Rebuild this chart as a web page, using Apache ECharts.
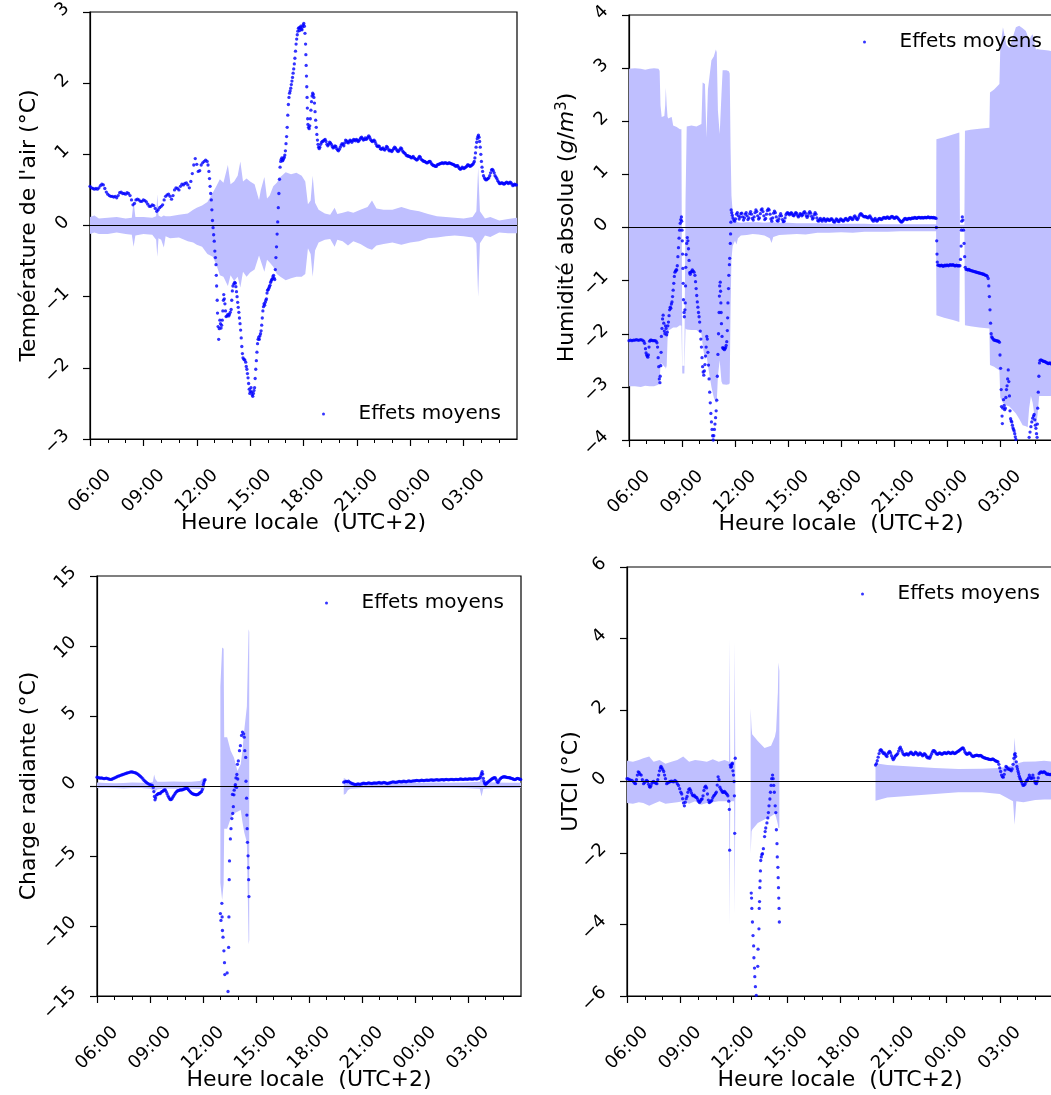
<!DOCTYPE html>
<html><head><meta charset="utf-8">
<script src="https://cdn.jsdelivr.net/npm/echarts@6/dist/echarts.min.js"></script>
<style>html,body{margin:0;padding:0;background:#fff}#c{width:1051px;height:1095px}</style>
</head><body><div id="c"></div>
<script>
// x values: minutes since 06:00 local time (UTC+2)
const hourLabels = ['06:00','09:00','12:00','15:00','18:00','21:00','00:00','03:00'];
const legendName = 'Effets moyens';
const xTitle = 'Heure locale  (UTC+2)';

// ---- Panel 1 : Température de l'air (°C)
const tempDots = [[0,0.55],[5,0.53],[10,0.52],[15,0.51],[20,0.52],[25,0.51],[30,0.53],[35,0.56],[40,0.58],[45,0.57],[50,0.52],[55,0.47],[60,0.44],[65,0.42],[70,0.41],[75,0.41],[80,0.40],[85,0.41],[90,0.39],[95,0.42],[100,0.46],[105,0.47],[110,0.45],[115,0.45],[120,0.44],[125,0.46],[130,0.45],[135,0.42],[140,0.36],[145,0.29],[150,0.31],[155,0.36],[160,0.37],[165,0.36],[170,0.34],[175,0.34],[180,0.36],[185,0.35],[190,0.33],[195,0.30],[200,0.27],[205,0.27],[210,0.29],[215,0.28],[220,0.24],[225,0.20],[230,0.22],[235,0.25],[240,0.27],[245,0.29],[250,0.36],[255,0.41],[260,0.43],[265,0.44],[270,0.41],[275,0.37],[280,0.42],[285,0.50],[290,0.53],[295,0.52],[300,0.50],[305,0.55],[310,0.58],[315,0.57],[320,0.59],[325,0.60],[330,0.57],[335,0.53],[340,0.62],[345,0.73],[350,0.85],[355,0.94],[360,0.86],[365,0.76],[370,0.77],[375,0.85],[380,0.88],[385,0.90],[390,0.92],[395,0.90],[398,0.85],[401,0.76],[403,0.66],[405,0.55],[407,0.45],[409,0.36],[411,0.22],[413,0.07],[415,-0.03],[417,-0.13],[419,-0.22],[421,-0.36],[423,-0.45],[425,-0.55],[426,-0.70],[427,-0.85],[429,-1.05],[430,-1.23],[432,-1.42],[434,-1.60],[436,-1.45],[438,-1.33],[440,-1.38],[442,-1.44],[444,-1.40],[446,-1.33],[448,-1.20],[450,-1.05],[451,-0.97],[453,-1.03],[455,-1.10],[457,-1.20],[459,-1.28],[462,-1.27],[465,-1.25],[468,-1.27],[470,-1.25],[473,-1.22],[476,-1.18],[478,-1.05],[480,-0.92],[482,-0.85],[485,-0.82],[488,-0.80],[490,-0.81],[492,-0.86],[494,-0.93],[496,-1.00],[498,-1.08],[500,-1.15],[502,-1.22],[504,-1.30],[506,-1.38],[508,-1.47],[510,-1.58],[512,-1.70],[514,-1.80],[516,-1.86],[519,-1.88],[522,-1.89],[525,-1.92],[527,-1.98],[529,-2.02],[531,-2.08],[533,-2.14],[535,-2.22],[537,-2.30],[539,-2.36],[541,-2.33],[543,-2.28],[545,-2.34],[547,-2.38],[549,-2.40],[551,-2.36],[553,-2.32],[555,-2.28],[557,-2.15],[559,-2.02],[561,-1.90],[563,-1.78],[565,-1.66],[567,-1.60],[569,-1.57],[571,-1.60],[573,-1.55],[575,-1.52],[577,-1.48],[579,-1.40],[581,-1.30],[583,-1.20],[585,-1.14],[587,-1.10],[589,-1.12],[591,-1.08],[593,-1.05],[595,-1.03],[597,-0.95],[599,-0.91],[601,-0.90],[603,-0.88],[605,-0.86],[607,-0.84],[609,-0.80],[611,-0.78],[613,-0.76],[615,-0.75],[617,-0.72],[619,-0.70],[621,-0.74],[623,-0.76],[625,-0.62],[627,-0.45],[629,-0.30],[631,-0.12],[633,0.05],[635,0.25],[637,0.45],[639,0.65],[641,0.82],[643,0.90],[645,0.93],[647,0.95],[649,0.91],[651,0.92],[653,0.94],[655,0.96],[657,0.99],[659,1.05],[661,1.15],[663,1.25],[665,1.38],[667,1.55],[669,1.70],[671,1.80],[673,1.86],[675,1.89],[677,1.93],[679,1.98],[681,2.03],[683,2.08],[685,2.14],[687,2.20],[689,2.27],[691,2.35],[693,2.45],[695,2.55],[697,2.62],[699,2.68],[701,2.73],[703,2.77],[705,2.78],[707,2.74],[709,2.78],[711,2.80],[713,2.76],[715,2.75],[717,2.79],[719,2.82],[721,2.84],[723,2.80],[725,2.70],[727,2.55],[728,2.40],[729,2.25],[730,2.10],[731,1.95],[732,1.80],[733,1.65],[734,1.50],[735,1.42],[737,1.38],[739,1.36],[741,1.40],[743,1.50],[745,1.62],[747,1.74],[749,1.82],[751,1.86],[753,1.84],[755,1.80],[757,1.72],[759,1.60],[761,1.48],[763,1.38],[765,1.28],[767,1.20],[769,1.14],[771,1.10],[773,1.08],[775,1.10],[778,1.14],[781,1.17],[784,1.18],[787,1.19],[790,1.20],[793,1.21],[796,1.18],[799,1.14],[802,1.12],[805,1.14],[808,1.17],[811,1.16],[814,1.14],[817,1.11],[820,1.09],[823,1.10],[826,1.12],[829,1.11],[832,1.08],[835,1.06],[838,1.05],[841,1.07],[844,1.10],[847,1.13],[850,1.15],[853,1.14],[856,1.12],[859,1.16],[862,1.20],[865,1.19],[868,1.17],[871,1.16],[874,1.18],[877,1.20],[880,1.19],[883,1.17],[886,1.19],[889,1.21],[892,1.20],[895,1.19],[898,1.21],[901,1.20],[904,1.18],[907,1.19],[910,1.21],[913,1.23],[916,1.24],[919,1.22],[922,1.20],[925,1.21],[928,1.23],[931,1.21],[934,1.22],[937,1.24],[940,1.26],[943,1.24],[946,1.21],[949,1.19],[952,1.18],[955,1.19],[958,1.20],[961,1.18],[964,1.15],[967,1.12],[970,1.11],[973,1.12],[976,1.11],[979,1.08],[982,1.07],[985,1.08],[988,1.09],[991,1.07],[994,1.06],[997,1.08],[1000,1.11],[1003,1.10],[1006,1.07],[1009,1.05],[1012,1.06],[1015,1.05],[1018,1.04],[1021,1.06],[1024,1.08],[1027,1.10],[1030,1.09],[1033,1.07],[1036,1.05],[1039,1.04],[1042,1.05],[1045,1.07],[1048,1.09],[1051,1.08],[1054,1.05],[1057,1.03],[1060,1.02],[1063,1.01],[1066,0.99],[1069,0.98],[1072,0.98],[1075,0.97],[1078,0.97],[1081,0.96],[1084,0.95],[1087,0.96],[1090,0.97],[1093,0.95],[1096,0.94],[1099,0.93],[1102,0.92],[1105,0.93],[1108,0.95],[1111,0.97],[1114,0.96],[1117,0.93],[1120,0.92],[1123,0.91],[1126,0.90],[1129,0.90],[1132,0.89],[1135,0.88],[1138,0.88],[1141,0.89],[1144,0.90],[1147,0.90],[1150,0.88],[1153,0.86],[1156,0.85],[1159,0.84],[1162,0.84],[1165,0.83],[1168,0.83],[1171,0.85],[1174,0.86],[1177,0.86],[1180,0.87],[1183,0.87],[1186,0.88],[1189,0.88],[1192,0.87],[1195,0.88],[1198,0.88],[1201,0.88],[1204,0.87],[1207,0.87],[1210,0.88],[1213,0.88],[1216,0.87],[1219,0.87],[1222,0.86],[1225,0.86],[1228,0.85],[1231,0.84],[1234,0.83],[1237,0.84],[1240,0.84],[1243,0.82],[1246,0.80],[1249,0.79],[1252,0.80],[1255,0.82],[1258,0.81],[1261,0.80],[1264,0.81],[1267,0.82],[1270,0.83],[1273,0.85],[1276,0.85],[1279,0.84],[1282,0.83],[1285,0.84],[1288,0.85],[1291,0.86],[1294,0.88],[1296,0.90],[1298,0.95],[1300,1.02],[1302,1.10],[1304,1.17],[1306,1.22],[1308,1.25],[1310,1.27],[1312,1.24],[1314,1.18],[1316,1.10],[1318,1.00],[1320,0.90],[1322,0.82],[1324,0.76],[1327,0.70],[1330,0.67],[1333,0.65],[1336,0.64],[1339,0.65],[1342,0.66],[1345,0.67],[1348,0.70],[1351,0.74],[1354,0.78],[1357,0.79],[1360,0.77],[1363,0.74],[1366,0.70],[1369,0.68],[1372,0.66],[1375,0.63],[1378,0.61],[1381,0.59],[1384,0.59],[1387,0.60],[1390,0.60],[1393,0.59],[1396,0.58],[1399,0.59],[1402,0.60],[1405,0.61],[1408,0.60],[1411,0.59],[1414,0.60],[1417,0.61],[1420,0.60],[1423,0.58],[1426,0.56],[1429,0.57],[1432,0.58],[1435,0.57],[1438,0.57]];
// band: [minute, upper, lower]   (null row = gap)
const tempBand = [[0,0.12,-0.12],[15,0.14,-0.10],[30,0.10,-0.12],[60,0.11,-0.12],[90,0.12,-0.10],[120,0.10,-0.12],[141,0.11,-0.13],[147,0.34,-0.30],[153,0.12,-0.14],[180,0.12,-0.12],[210,0.11,-0.13],[223,0.13,-0.20],[227,0.44,-0.44],[231,0.14,-0.18],[240,0.12,-0.20],[249,0.14,-0.31],[255,0.13,-0.15],[270,0.13,-0.18],[300,0.15,-0.17],[330,0.17,-0.22],[348,0.22,-0.24],[360,0.25,-0.27],[378,0.28,-0.30],[396,0.33,-0.40],[414,0.46,-0.44],[426,0.55,-0.55],[438,0.65,-0.70],[450,0.60,-0.72],[465,0.85,-0.85],[474,0.58,-0.70],[486,0.62,-0.78],[498,0.70,-0.72],[507,0.90,-0.87],[516,0.62,-0.65],[528,0.66,-0.72],[540,0.62,-0.66],[555,0.58,-0.62],[570,0.36,-0.42],[576,0.50,-0.50],[588,0.68,-0.65],[597,0.38,-0.48],[606,0.42,-0.52],[618,0.55,-0.58],[630,0.60,-0.68],[642,0.68,-0.72],[660,0.75,-0.77],[678,0.72,-0.74],[696,0.74,-0.72],[714,0.70,-0.72],[726,0.62,-0.68],[735,0.30,-0.32],[744,0.35,-0.40],[751,0.70,-0.72],[759,0.32,-0.35],[771,0.22,-0.24],[792,0.17,-0.20],[810,0.15,-0.19],[825,0.25,-0.30],[834,0.16,-0.20],[852,0.18,-0.22],[870,0.20,-0.28],[888,0.18,-0.22],[912,0.22,-0.26],[936,0.26,-0.32],[951,0.35,-0.34],[966,0.24,-0.28],[990,0.22,-0.26],[1020,0.22,-0.24],[1050,0.26,-0.27],[1080,0.22,-0.24],[1110,0.20,-0.22],[1140,0.16,-0.18],[1170,0.13,-0.17],[1200,0.12,-0.15],[1230,0.11,-0.14],[1260,0.10,-0.15],[1290,0.12,-0.17],[1303,0.20,-0.25],[1309,0.82,-1.00],[1315,0.20,-0.25],[1332,0.10,-0.14],[1350,0.12,-0.16],[1380,0.07,-0.10],[1410,0.09,-0.11],[1440,0.11,-0.11]];

// ---- Panel 2 : Humidité absolue (g/m3)
const humDots = [[0,-2.13],[5,-2.12],[10,-2.13],[15,-2.12],[20,-2.12],[25,-2.11],[30,-2.12],[35,-2.12],[40,-2.11],[45,-2.12],[50,-2.14],[53,-2.18],[56,-2.28],[58,-2.36],[60,-2.40],[62,-2.42],[64,-2.44],[66,-2.40],[68,-2.25],[70,-2.14],[73,-2.12],[76,-2.12],[80,-2.13],[84,-2.13],[88,-2.13],[92,-2.14],[95,-2.17],[97,-2.25],[99,-2.45],[101,-2.62],[103,-2.85],[105,-2.92],[106,-2.80],[108,-2.60],[109,-2.35],[110,-2.05],[112,-1.90],[114,-1.72],[116,-1.65],[118,-1.80],[120,-1.95],[122,-2.00],[124,-1.85],[126,-1.90],[128,-2.02],[130,-1.97],[132,-1.85],[134,-1.78],[136,-1.66],[138,-1.55],[140,-1.50],[142,-1.52],[144,-1.44],[146,-1.40],[148,-1.30],[150,-1.18],[152,-1.05],[154,-0.92],[156,-0.84],[158,-0.82],[160,-0.80],[162,-0.80],[164,-0.72],[166,-0.55],[168,-0.38],[170,-0.20],[172,-0.05],[174,0.08],[176,0.15],[178,0.20],[179,0.12],[180,-0.05],[181,-0.25],[182,-0.50],[183,-0.77],[184,-1.05],[185,-1.36],[187,-1.60],[188,-1.68],[190,-1.55],[191,-1.42],[192,-1.10],[193,-0.75],[194,-0.51],[196,-0.30],[198,-0.19],[200,-0.25],[202,-0.40],[204,-0.62],[206,-0.85],[208,-0.88],[210,-0.84],[212,-0.83],[215,-0.80],[218,-0.82],[221,-0.84],[224,-0.90],[226,-1.02],[228,-1.15],[230,-1.28],[232,-1.40],[234,-1.50],[236,-1.60],[238,-1.68],[240,-1.78],[242,-1.95],[244,-2.10],[246,-2.25],[248,-2.45],[250,-2.62],[252,-2.72],[254,-2.78],[256,-2.70],[258,-2.58],[260,-2.42],[262,-2.25],[264,-2.05],[266,-2.10],[268,-2.35],[270,-2.59],[272,-2.85],[274,-3.10],[276,-3.30],[278,-3.50],[280,-3.66],[282,-3.80],[284,-3.92],[286,-4.00],[288,-3.92],[290,-3.80],[292,-3.70],[294,-3.58],[296,-3.45],[298,-3.25],[300,-2.80],[302,-2.39],[304,-2.00],[306,-1.60],[307,-1.29],[308,-1.10],[310,-1.03],[311,-1.20],[312,-1.42],[313,-1.60],[314,-1.81],[316,-2.05],[318,-2.26],[320,-2.28],[322,-2.27],[324,-2.30],[326,-2.28],[328,-2.26],[330,-2.22],[332,-2.15],[334,-1.94],[335,-1.70],[336,-1.42],[338,-1.15],[339,-0.90],[341,-0.70],[342,-0.58],[344,-0.30],[345,-0.12],[346,0.10],[347,0.33],[349,0.28],[351,0.23],[353,0.18],[356,0.14],[359,0.12],[362,0.16],[365,0.25],[368,0.28],[371,0.22],[374,0.16],[377,0.20],[380,0.26],[383,0.27],[386,0.20],[389,0.14],[392,0.18],[395,0.25],[398,0.28],[401,0.22],[404,0.15],[407,0.18],[410,0.26],[413,0.30],[416,0.25],[419,0.17],[422,0.14],[425,0.20],[428,0.28],[431,0.33],[434,0.30],[437,0.22],[440,0.16],[443,0.18],[446,0.26],[449,0.33],[452,0.35],[455,0.30],[458,0.22],[461,0.15],[464,0.17],[467,0.25],[470,0.32],[473,0.35],[476,0.33],[479,0.25],[482,0.16],[485,0.12],[488,0.18],[491,0.27],[494,0.31],[497,0.28],[500,0.20],[503,0.13],[506,0.12],[509,0.16],[512,0.22],[515,0.26],[518,0.22],[521,0.15],[524,0.11],[527,0.12],[530,0.18],[533,0.24],[536,0.27],[539,0.28],[542,0.26],[545,0.24],[548,0.26],[551,0.28],[554,0.26],[557,0.23],[560,0.22],[563,0.25],[566,0.28],[569,0.27],[572,0.23],[575,0.20],[578,0.22],[581,0.26],[584,0.25],[587,0.22],[590,0.24],[593,0.28],[596,0.30],[599,0.27],[602,0.22],[605,0.19],[608,0.22],[611,0.27],[614,0.30],[617,0.27],[620,0.21],[623,0.16],[626,0.18],[629,0.24],[632,0.28],[635,0.25],[638,0.18],[641,0.13],[644,0.12],[647,0.15],[650,0.17],[653,0.14],[656,0.12],[659,0.15],[662,0.17],[665,0.15],[668,0.12],[671,0.14],[674,0.16],[677,0.15],[680,0.13],[683,0.14],[686,0.16],[689,0.16],[692,0.14],[695,0.11],[698,0.10],[701,0.13],[704,0.16],[707,0.15],[710,0.12],[713,0.11],[716,0.14],[719,0.16],[722,0.15],[725,0.13],[728,0.12],[731,0.14],[734,0.16],[737,0.17],[740,0.15],[743,0.13],[746,0.15],[749,0.18],[752,0.19],[755,0.17],[758,0.15],[761,0.16],[764,0.20],[767,0.22],[770,0.19],[773,0.16],[776,0.15],[779,0.18],[782,0.22],[785,0.25],[788,0.26],[791,0.24],[794,0.22],[797,0.21],[800,0.20],[803,0.21],[806,0.20],[809,0.19],[812,0.18],[815,0.20],[818,0.22],[821,0.19],[824,0.16],[827,0.14],[830,0.12],[833,0.15],[836,0.17],[839,0.14],[842,0.12],[845,0.14],[848,0.16],[851,0.17],[854,0.16],[857,0.15],[860,0.16],[863,0.18],[866,0.19],[869,0.18],[872,0.17],[875,0.19],[878,0.20],[881,0.18],[884,0.17],[887,0.18],[890,0.20],[893,0.21],[896,0.20],[899,0.18],[902,0.17],[905,0.19],[908,0.20],[911,0.19],[914,0.17],[917,0.15],[920,0.13],[923,0.11],[926,0.10],[929,0.12],[932,0.14],[935,0.16],[938,0.17],[941,0.16],[944,0.15],[947,0.16],[950,0.17],[953,0.17],[956,0.16],[959,0.17],[962,0.18],[965,0.17],[968,0.18],[971,0.19],[974,0.18],[977,0.17],[980,0.18],[983,0.19],[986,0.19],[989,0.18],[992,0.18],[995,0.19],[998,0.18],[1001,0.18],[1004,0.19],[1007,0.19],[1010,0.18],[1013,0.19],[1016,0.20],[1019,0.19],[1022,0.18],[1025,0.19],[1028,0.19],[1031,0.18],[1034,0.19],[1037,0.18],[1040,0.18],[1043,0.17],[1044,0.00],[1045,-0.25],[1046,-0.50],[1047,-0.65],[1049,-0.71],[1052,-0.71],[1055,-0.72],[1058,-0.72],[1061,-0.71],[1064,-0.72],[1067,-0.73],[1070,-0.72],[1073,-0.71],[1076,-0.72],[1079,-0.71],[1082,-0.71],[1085,-0.72],[1088,-0.71],[1091,-0.70],[1094,-0.71],[1097,-0.71],[1100,-0.70],[1103,-0.71],[1106,-0.72],[1109,-0.72],[1112,-0.71],[1115,-0.72],[1118,-0.72],[1121,-0.72],[1124,-0.72],[1126,-0.60],[1128,-0.35],[1129,-0.05],[1130,0.12],[1132,0.20],[1134,0.14],[1136,-0.05],[1138,-0.30],[1140,-0.55],[1142,-0.75],[1145,-0.79],[1148,-0.79],[1151,-0.80],[1154,-0.79],[1157,-0.80],[1160,-0.81],[1163,-0.81],[1166,-0.82],[1169,-0.82],[1172,-0.83],[1175,-0.83],[1178,-0.84],[1181,-0.84],[1184,-0.85],[1187,-0.85],[1190,-0.86],[1193,-0.86],[1196,-0.87],[1199,-0.87],[1202,-0.88],[1205,-0.88],[1208,-0.89],[1211,-0.90],[1214,-0.90],[1217,-0.92],[1220,-0.96],[1222,-1.10],[1224,-1.30],[1226,-1.55],[1228,-1.80],[1230,-2.00],[1232,-2.06],[1234,-2.08],[1237,-2.10],[1240,-2.12],[1243,-2.12],[1246,-2.13],[1249,-2.13],[1252,-2.14],[1255,-2.14],[1258,-2.16],[1260,-2.40],[1262,-2.65],[1264,-3.05],[1265,-3.37],[1267,-3.55],[1268,-3.69],[1270,-3.40],[1272,-3.24],[1274,-3.35],[1276,-3.43],[1278,-3.40],[1280,-3.20],[1282,-3.05],[1284,-2.98],[1286,-2.85],[1288,-2.68],[1290,-2.90],[1292,-3.17],[1294,-3.45],[1296,-3.60],[1298,-3.64],[1300,-3.66],[1302,-3.72],[1304,-3.77],[1306,-3.80],[1308,-3.83],[1310,-3.88],[1312,-3.94],[1314,-3.99],[1318,-4.10],[1325,-4.20],[1335,-4.30],[1345,-4.20],[1355,-4.05],[1359,-3.95],[1362,-3.85],[1365,-3.75],[1368,-3.66],[1371,-3.59],[1374,-3.55],[1376,-3.52],[1378,-3.62],[1380,-3.72],[1382,-3.78],[1384,-3.88],[1386,-3.95],[1387,-3.70],[1388,-3.40],[1390,-3.10],[1392,-2.80],[1394,-2.55],[1396,-2.50],[1399,-2.49],[1402,-2.50],[1405,-2.51],[1408,-2.52],[1411,-2.52],[1414,-2.53],[1417,-2.54],[1420,-2.55],[1423,-2.56],[1426,-2.56],[1429,-2.55],[1432,-2.56],[1435,-2.57],[1438,-2.56]];
const humBand = [[0,2.99,-2.99],[20,3.00,-2.99],[40,2.99,-3.00],[55,2.97,-2.98],[70,2.99,-2.99],[85,3.00,-2.99],[100,2.99,-2.96],[104,2.95,-2.90],[107,2.30,-2.60],[111,2.08,-2.55],[120,2.10,-2.62],[123,2.30,-2.62],[125,2.63,-2.66],[128,2.30,-2.60],[131,2.08,-2.10],[134,2.05,-1.94],[140,2.07,-1.92],[145,2.08,-1.90],[150,1.92,-1.88],[162,1.89,-1.88],[173,1.85,-1.84],[178,1.85,-1.85],[181,-2.60,-2.75],[188,-2.60,-2.75],[192,0.50,-1.90],[196,1.90,-1.92],[212,1.92,-1.93],[229,1.90,-1.93],[246,1.95,-2.00],[250,2.73,-2.20],[258,2.70,-2.50],[263,1.69,-2.40],[268,2.60,-2.60],[280,3.15,-3.00],[288,3.22,-3.20],[295,3.35,-3.30],[298,3.30,-3.30],[302,2.20,-2.80],[308,1.76,-2.50],[314,2.50,-2.90],[318,2.96,-2.95],[331,2.96,-2.96],[339,2.94,-2.95],[342,2.90,-2.93],[345,1.50,-1.50],[348,0.60,-0.60],[352,0.30,-0.35],[356,0.15,-0.30],[360,0.12,-0.25],[365,0.10,-0.32],[370,0.10,-0.20],[380,0.09,-0.15],[400,0.10,-0.14],[420,0.10,-0.12],[440,0.10,-0.13],[460,0.09,-0.15],[478,0.10,-0.20],[484,0.10,-0.29],[490,0.10,-0.18],[510,0.09,-0.14],[540,0.09,-0.13],[570,0.08,-0.12],[600,0.08,-0.13],[640,0.08,-0.10],[680,0.07,-0.10],[720,0.07,-0.09],[760,0.07,-0.10],[800,0.07,-0.08],[840,0.06,-0.08],[880,0.06,-0.08],[920,0.06,-0.07],[960,0.06,-0.07],[1000,0.06,-0.07],[1043,0.06,-0.07],[1044,1.66,-1.65],[1070,1.70,-1.70],[1100,1.75,-1.74],[1122,1.79,-1.78],[1124,0.05,-0.05],[1139,0.05,-0.05],[1141,1.82,-1.84],[1160,1.84,-1.86],[1190,1.86,-1.88],[1224,1.88,-1.90],[1226,2.54,-2.59],[1240,2.60,-2.62],[1258,2.70,-2.69],[1261,3.38,-3.20],[1270,3.77,-3.30],[1282,3.44,-3.35],[1292,3.38,-3.37],[1314,3.77,-3.50],[1325,3.80,-3.60],[1337,3.75,-3.72],[1348,3.70,-3.74],[1354,3.60,-3.76],[1359,3.51,-3.40],[1365,3.60,-3.17],[1371,3.64,-3.30],[1376,3.50,-3.50],[1382,3.35,-3.76],[1388,3.36,-3.50],[1393,3.35,-3.17],[1410,3.34,-3.17],[1425,3.33,-3.17],[1440,3.32,-3.17]];

// ---- Panel 3 : Charge radiante (°C)
const radDots = [[0,0.63],[4,0.60],[8,0.58],[12,0.56],[16,0.58],[20,0.55],[24,0.52],[28,0.55],[32,0.56],[36,0.53],[40,0.50],[44,0.48],[48,0.47],[52,0.50],[56,0.54],[60,0.58],[64,0.62],[68,0.66],[72,0.70],[76,0.73],[80,0.76],[84,0.79],[88,0.82],[92,0.85],[96,0.88],[100,0.91],[104,0.94],[108,0.96],[112,0.99],[116,1.01],[120,1.00],[124,0.98],[128,0.96],[132,0.93],[136,0.88],[140,0.82],[144,0.75],[148,0.68],[152,0.60],[156,0.50],[160,0.40],[164,0.32],[168,0.25],[172,0.19],[176,0.14],[180,0.10],[184,0.06],[188,0.04],[191,-0.10],[193,-0.40],[195,-0.75],[197,-0.99],[199,-0.85],[202,-0.65],[205,-0.60],[208,-0.55],[211,-0.52],[214,-0.55],[217,-0.48],[220,-0.40],[223,-0.38],[226,-0.32],[229,-0.28],[232,-0.27],[235,-0.40],[238,-0.55],[241,-0.70],[244,-0.82],[247,-0.93],[250,-0.98],[253,-0.95],[256,-0.85],[259,-0.75],[262,-0.65],[265,-0.55],[268,-0.45],[271,-0.38],[274,-0.34],[277,-0.33],[280,-0.30],[283,-0.28],[286,-0.27],[289,-0.28],[292,-0.25],[295,-0.22],[298,-0.20],[301,-0.18],[304,-0.16],[307,-0.18],[310,-0.25],[313,-0.33],[316,-0.40],[319,-0.46],[322,-0.52],[325,-0.56],[328,-0.58],[331,-0.60],[334,-0.62],[337,-0.63],[340,-0.62],[343,-0.60],[346,-0.55],[349,-0.50],[352,-0.45],[355,-0.39],[358,-0.25],[361,0.10],[363,0.25],[365,0.39],[367,0.45],[419,-9.11],[421,-9.60],[424,-8.38],[425,-9.35],[426,-10.32],[428,-10.80],[431,-11.77],[433,-12.62],[434,-13.47],[442,-13.35],[445,-14.68],[447,-11.53],[448,-9.35],[449,-6.69],[450,-5.35],[453,-3.78],[455,-3.05],[458,-2.33],[460,-0.60],[461,-1.96],[463,-1.48],[465,-0.63],[466,-0.30],[469,-0.02],[470,0.10],[472,0.58],[474,-0.10],[475,0.82],[477,1.55],[478,0.50],[480,1.79],[484,2.52],[487,2.88],[491,3.61],[494,3.85],[498,3.73],[500,3.49],[502,2.52],[505,2.04],[506,0.34],[508,-0.87],[509,-2.08],[510,-3.05],[511,-4.02],[513,-4.99],[514,-5.84],[515,-6.69],[516,-7.90],[838,0.27],[842,0.30],[846,0.33],[850,0.30],[854,0.34],[858,0.28],[862,0.22],[866,0.18],[870,0.15],[874,0.12],[878,0.10],[882,0.12],[886,0.15],[890,0.13],[894,0.12],[898,0.15],[902,0.18],[906,0.20],[910,0.18],[914,0.17],[918,0.19],[922,0.22],[926,0.21],[930,0.19],[934,0.18],[938,0.20],[942,0.22],[946,0.20],[950,0.21],[954,0.23],[958,0.25],[962,0.22],[966,0.20],[970,0.23],[974,0.26],[978,0.24],[982,0.20],[986,0.18],[990,0.20],[994,0.22],[998,0.25],[1002,0.28],[1006,0.30],[1010,0.28],[1014,0.26],[1018,0.27],[1022,0.30],[1026,0.33],[1030,0.31],[1034,0.29],[1038,0.32],[1042,0.34],[1046,0.32],[1050,0.30],[1054,0.33],[1058,0.36],[1062,0.35],[1066,0.33],[1070,0.35],[1074,0.37],[1078,0.36],[1082,0.38],[1086,0.40],[1090,0.39],[1094,0.37],[1098,0.39],[1102,0.41],[1106,0.40],[1110,0.38],[1114,0.40],[1118,0.42],[1122,0.41],[1126,0.40],[1130,0.42],[1134,0.44],[1138,0.43],[1142,0.41],[1146,0.42],[1150,0.44],[1154,0.45],[1158,0.43],[1162,0.42],[1166,0.44],[1170,0.46],[1174,0.45],[1178,0.43],[1182,0.45],[1186,0.47],[1190,0.46],[1194,0.44],[1198,0.46],[1202,0.48],[1206,0.47],[1210,0.45],[1214,0.46],[1218,0.48],[1222,0.47],[1226,0.46],[1230,0.48],[1234,0.50],[1238,0.49],[1242,0.47],[1246,0.48],[1250,0.50],[1254,0.49],[1258,0.48],[1262,0.50],[1266,0.51],[1270,0.50],[1274,0.49],[1278,0.50],[1282,0.52],[1286,0.51],[1290,0.50],[1294,0.52],[1298,0.55],[1301,0.62],[1304,0.75],[1306,0.90],[1308,1.02],[1310,0.85],[1312,0.55],[1314,0.35],[1316,0.22],[1318,0.15],[1320,0.12],[1323,0.18],[1326,0.25],[1329,0.30],[1332,0.35],[1335,0.40],[1338,0.45],[1341,0.50],[1344,0.54],[1347,0.57],[1350,0.60],[1353,0.58],[1356,0.45],[1359,0.30],[1362,0.25],[1365,0.35],[1368,0.48],[1371,0.55],[1374,0.60],[1377,0.63],[1380,0.65],[1383,0.66],[1386,0.65],[1389,0.63],[1392,0.62],[1395,0.60],[1398,0.60],[1401,0.59],[1404,0.57],[1407,0.55],[1410,0.53],[1413,0.50],[1416,0.48],[1419,0.46],[1422,0.48],[1425,0.52],[1428,0.55],[1431,0.53],[1434,0.50],[1437,0.48],[1439,0.47]];
const radBand = [[0,0.25,-0.15],[30,0.22,-0.12],[60,0.20,-0.15],[90,0.22,-0.18],[120,0.25,-0.15],[150,0.23,-0.14],[180,0.25,-0.20],[190,0.30,-0.30],[194,0.82,-0.63],[198,0.50,-0.40],[205,0.30,-0.25],[230,0.30,-0.18],[260,0.32,-0.20],[290,0.30,-0.18],[320,0.30,-0.20],[350,0.35,-0.22],[361,0.58,-0.27],[367,0.50,-0.20],[368,null,null],[419,7.12,-6.93],[425,9.90,-8.14],[430,9.80,-7.00],[432,3.49,-3.05],[442,3.49,-3.05],[454,2.52,-2.33],[465,2.04,-1.96],[477,1.07,-1.84],[488,1.55,-1.72],[494,2.52,-2.57],[500,3.97,-3.30],[509,5.67,-4.02],[515,11.20,-11.30],[517,11.00,-11.00],[518,null,null],[838,0.58,-0.63],[845,0.50,-0.55],[852,0.30,-0.30],[860,0.25,-0.20],[900,0.22,-0.15],[950,0.22,-0.15],[1000,0.24,-0.14],[1050,0.23,-0.13],[1100,0.24,-0.14],[1150,0.25,-0.13],[1200,0.24,-0.12],[1250,0.25,-0.14],[1300,0.30,-0.20],[1306,0.82,-0.75],[1312,0.30,-0.20],[1350,0.25,-0.15],[1400,0.24,-0.14],[1440,0.24,-0.13]];

// ---- Panel 4 : UTCI (°C)
const utciDots = [[0,0.08],[4,0.07],[8,0.05],[12,0.04],[17,0.03],[22,-0.01],[26,-0.05],[29,-0.06],[32,0.05],[35,0.18],[38,0.27],[41,0.25],[44,0.20],[48,0.18],[52,0.05],[56,-0.06],[60,-0.03],[64,0.02],[67,0.03],[70,0.00],[73,-0.08],[76,-0.14],[78,-0.16],[81,-0.12],[84,-0.05],[87,-0.01],[90,0.00],[94,-0.03],[98,-0.05],[101,-0.06],[104,0.05],[107,0.18],[110,0.30],[113,0.38],[115,0.42],[118,0.38],[121,0.33],[124,0.28],[127,0.18],[130,0.08],[134,-0.06],[138,-0.04],[142,-0.02],[146,0.00],[150,0.01],[154,0.00],[158,-0.01],[162,0.03],[166,0.00],[170,-0.06],[174,-0.11],[178,-0.20],[182,-0.30],[185,-0.35],[188,-0.48],[191,-0.60],[194,-0.68],[197,-0.58],[200,-0.48],[203,-0.42],[206,-0.30],[209,-0.22],[212,-0.20],[215,-0.25],[218,-0.32],[221,-0.38],[224,-0.40],[227,-0.38],[230,-0.42],[233,-0.44],[236,-0.45],[239,-0.50],[242,-0.55],[245,-0.59],[248,-0.55],[251,-0.50],[254,-0.49],[257,-0.40],[260,-0.25],[263,-0.16],[266,-0.13],[269,-0.18],[272,-0.35],[275,-0.52],[278,-0.59],[281,-0.57],[284,-0.55],[287,-0.52],[290,-0.45],[293,-0.40],[296,-0.38],[299,-0.34],[302,-0.30],[305,-0.10],[308,0.13],[311,0.05],[314,-0.16],[317,-0.22],[320,-0.26],[323,-0.30],[326,-0.30],[329,-0.28],[332,-0.30],[335,-0.33],[338,-0.36],[341,-0.40],[344,-0.55],[346,-0.78],[347,-1.92],[349,0.46],[351,0.40],[353,0.42],[355,0.48],[356,0.51],[358,0.30],[360,0.18],[362,0.00],[363,-0.40],[364,-1.45],[366,0.65],[420,-3.12],[421,-3.26],[422,-3.55],[424,-3.93],[426,-4.31],[428,-4.60],[429,-4.93],[431,-5.22],[432,-5.46],[434,-5.74],[437,-5.98],[442,-5.17],[443,-4.69],[446,-4.12],[447,-3.55],[448,-3.36],[449,-2.97],[450,-2.78],[451,-2.50],[452,-2.21],[454,-2.11],[456,-2.04],[458,-2.02],[461,-1.88],[465,-1.54],[467,-1.40],[469,-1.30],[473,-1.16],[476,-1.02],[478,-0.87],[480,-0.68],[483,-0.49],[485,-0.30],[487,-0.11],[489,0.08],[492,0.18],[494,0.08],[496,-0.11],[498,-0.30],[501,-0.68],[503,-0.87],[505,-1.35],[507,-1.74],[508,-2.11],[510,-2.40],[511,-2.69],[512,-2.97],[513,-3.26],[514,-3.55],[515,-3.93],[840,0.46],[843,0.50],[846,0.58],[849,0.68],[852,0.78],[855,0.86],[858,0.89],[861,0.86],[864,0.82],[867,0.78],[870,0.80],[873,0.76],[876,0.72],[879,0.70],[882,0.78],[885,0.82],[888,0.84],[891,0.80],[894,0.72],[897,0.66],[900,0.61],[903,0.65],[906,0.70],[909,0.73],[912,0.75],[915,0.78],[918,0.85],[921,0.92],[924,0.96],[927,0.90],[930,0.84],[933,0.78],[936,0.75],[939,0.74],[942,0.76],[945,0.78],[948,0.76],[951,0.74],[954,0.77],[957,0.80],[960,0.82],[963,0.79],[966,0.76],[969,0.75],[972,0.78],[975,0.82],[978,0.80],[981,0.77],[984,0.74],[987,0.76],[990,0.80],[993,0.78],[996,0.75],[999,0.72],[1002,0.74],[1005,0.78],[1008,0.76],[1011,0.72],[1014,0.68],[1017,0.66],[1020,0.68],[1023,0.65],[1026,0.70],[1029,0.76],[1032,0.82],[1035,0.86],[1038,0.86],[1041,0.84],[1044,0.80],[1047,0.77],[1050,0.76],[1053,0.78],[1056,0.80],[1059,0.79],[1062,0.77],[1065,0.76],[1068,0.78],[1071,0.80],[1074,0.81],[1077,0.79],[1080,0.78],[1083,0.80],[1086,0.82],[1089,0.81],[1092,0.79],[1095,0.78],[1098,0.80],[1101,0.82],[1104,0.80],[1107,0.78],[1110,0.79],[1113,0.81],[1116,0.83],[1119,0.84],[1122,0.86],[1125,0.88],[1128,0.90],[1131,0.92],[1134,0.94],[1137,0.93],[1140,0.88],[1143,0.82],[1146,0.78],[1149,0.76],[1152,0.77],[1155,0.79],[1158,0.80],[1161,0.78],[1164,0.74],[1167,0.71],[1170,0.70],[1173,0.71],[1176,0.72],[1179,0.73],[1182,0.74],[1185,0.73],[1188,0.72],[1191,0.72],[1194,0.73],[1197,0.72],[1200,0.70],[1203,0.68],[1206,0.67],[1209,0.66],[1212,0.65],[1215,0.64],[1218,0.64],[1221,0.63],[1224,0.62],[1227,0.62],[1230,0.61],[1233,0.62],[1236,0.63],[1239,0.62],[1242,0.60],[1245,0.58],[1248,0.57],[1251,0.56],[1254,0.55],[1257,0.48],[1260,0.38],[1263,0.28],[1266,0.18],[1269,0.13],[1272,0.12],[1275,0.20],[1278,0.32],[1281,0.42],[1284,0.40],[1287,0.36],[1290,0.34],[1293,0.35],[1296,0.32],[1299,0.30],[1302,0.35],[1305,0.48],[1308,0.65],[1310,0.75],[1312,0.78],[1314,0.70],[1316,0.55],[1318,0.42],[1320,0.35],[1322,0.28],[1324,0.22],[1326,0.15],[1328,0.10],[1330,0.06],[1333,0.00],[1336,-0.06],[1339,-0.11],[1342,-0.10],[1345,-0.08],[1348,-0.02],[1351,0.03],[1354,0.05],[1357,0.10],[1360,0.18],[1363,0.12],[1366,0.08],[1369,0.10],[1372,0.18],[1375,0.10],[1378,0.00],[1381,-0.05],[1384,-0.06],[1387,0.00],[1390,0.10],[1393,0.22],[1396,0.25],[1399,0.27],[1402,0.26],[1405,0.25],[1408,0.27],[1411,0.27],[1414,0.25],[1417,0.22],[1420,0.20],[1423,0.21],[1426,0.20],[1429,0.19],[1432,0.20],[1435,0.19],[1438,0.18]];
const utciBand = [[0,0.58,-0.60],[20,0.55,-0.62],[40,0.60,-0.58],[55,0.65,-0.60],[75,0.70,-0.68],[90,0.55,-0.62],[110,0.60,-0.55],[130,0.50,-0.62],[150,0.55,-0.60],[170,0.60,-0.58],[190,0.70,-0.55],[210,0.55,-0.62],[230,0.60,-0.55],[250,0.58,-0.65],[270,0.55,-0.60],[290,0.62,-0.58],[310,0.55,-0.55],[330,0.60,-0.55],[345,0.55,-0.55],[347,4.00,-4.00],[349,0.55,-0.55],[362,0.55,-0.55],[364,3.90,-3.70],[366,0.50,-0.50],[367,null,null],[418,2.04,-2.02],[421,1.50,-1.40],[423,1.32,-1.35],[442,1.13,-1.16],[465,0.94,-1.06],[487,1.00,-0.97],[500,1.25,-0.90],[504,1.42,-1.00],[510,2.50,-1.20],[512,3.33,-1.30],[515,3.10,-1.30],[516,null,null],[840,0.51,-0.54],[880,0.46,-0.45],[960,0.42,-0.40],[1040,0.38,-0.35],[1120,0.35,-0.30],[1200,0.36,-0.30],[1260,0.38,-0.35],[1305,0.45,-0.55],[1310,1.23,-1.21],[1316,0.50,-0.55],[1340,0.55,-0.58],[1380,0.56,-0.52],[1410,0.58,-0.50],[1440,0.55,-0.50]];

const panels = [
  {dots: tempDots, band: tempBand, yMin: -3, yMax: 3, yInt: 1, yName: "Température de l'air (°C)",
   grid: {left: 90, top: 12, width: 427, height: 427}, nameGap: 50, legend: {left: 317, top: 399}},
  {dots: humDots, band: humBand, yMin: -4, yMax: 4, yInt: 1, yName: '{n|Humidité absolue (}{i|g}{n|/}{i|m}{s|3}{n|)}',
   grid: {left: 629, top: 15, width: 424, height: 425}, nameGap: 49, legend: {left: 858, top: 27}},
  {dots: radDots, band: radBand, yMin: -15, yMax: 15, yInt: 5, yName: 'Charge radiante (°C)',
   grid: {left: 97, top: 576, width: 424, height: 420}, nameGap: 57, legend: {left: 320, top: 588}},
  {dots: utciDots, band: utciBand, yMin: -6, yMax: 6, yInt: 2, yName: 'UTCI (°C)',
   grid: {left: 627, top: 567, width: 426, height: 429}, nameGap: 45, legend: {left: 856, top: 579}}
];

const FONT = 'DejaVu Sans';
const axisColor = '#000';
const bandColor = '#bfbfff';
const fmtMinus = v => String(v).replace('-', '\u2212');

function bandSeries(i, band) {
  const segs = [];
  let cur = [];
  band.forEach(b => {
    if (b[1] == null) { if (cur.length) segs.push(cur); cur = []; }
    else cur.push(b);
  });
  if (cur.length) segs.push(cur);
  return {
    type: 'custom', xAxisIndex: i, yAxisIndex: i, silent: true, z: 1, clip: true,
    data: band.filter(b => b[1] != null),
    encode: {x: 0, y: [1, 2]},
    renderItem: (params, api) => {
      if (params.dataIndex !== 0) return null;
      return {
        type: 'group',
        children: segs.map(seg => ({
          type: 'polygon',
          shape: {points: seg.map(b => api.coord([b[0], b[1]]))
                   .concat(seg.slice().reverse().map(b => api.coord([b[0], b[2]])))},
          style: {fill: bandColor, stroke: null}
        }))
      };
    }
  };
}

const option = {animation: false, backgroundColor: '#fff', grid: [], xAxis: [], yAxis: [], series: [], legend: []};

panels.forEach((p, i) => {
  option.grid.push(Object.assign({show: true, borderColor: axisColor, borderWidth: 1.2,
    containLabel: false, outerBoundsMode: 'none'}, p.grid));
  option.xAxis.push({
    type: 'value', gridIndex: i, min: 0, max: 1440, interval: 180,
    name: xTitle, nameLocation: 'middle', nameGap: 73, nameMoveOverlap: false,
    nameTextStyle: {fontFamily: FONT, fontSize: 22, color: '#000'},
    axisLine: {show: true, onZero: false, lineStyle: {color: axisColor, width: 1.2}},
    axisTick: {show: true, length: 7, lineStyle: {color: axisColor, width: 1.2}, customValues: [0,180,360,540,720,900,1080,1260]},
    minorTick: {show: true, splitNumber: 3, length: 4, lineStyle: {color: axisColor, width: 1}},
    splitLine: {show: false},
    axisLabel: {rotate: 45, margin: 52, align: 'center', verticalAlign: 'middle',
      fontFamily: FONT, fontSize: 18, color: '#000',
      customValues: [0,180,360,540,720,900,1080,1260],
      formatter: v => hourLabels[Math.round(v / 180)] || ''}
  });
  const isRich = i === 1;
  option.yAxis.push({
    type: 'value', gridIndex: i, min: p.yMin, max: p.yMax, interval: p.yInt,
    name: p.yName, nameLocation: 'middle', nameGap: p.nameGap, nameRotate: 90, nameMoveOverlap: false,
    nameTextStyle: isRich ? {fontFamily: FONT, fontSize: 22, color: '#000',
      rich: {n: {fontFamily: FONT, fontSize: 22, color: '#000'},
             i: {fontFamily: FONT, fontSize: 22, color: '#000', fontStyle: 'italic'},
             s: {fontFamily: FONT, fontSize: 15, color: '#000', verticalAlign: 'top', padding: [0, 0, 10, 0]}}}
      : {fontFamily: FONT, fontSize: 22, color: '#000'},
    axisLine: {show: true, onZero: false, lineStyle: {color: axisColor, width: 1.2}},
    axisTick: {show: true, length: 7, lineStyle: {color: axisColor, width: 1.2}},
    splitLine: {show: false},
    axisLabel: {rotate: 45, margin: 17, align: 'right', verticalAlign: 'bottom',
      fontFamily: FONT, fontSize: 18, color: '#000', formatter: fmtMinus}
  });
  option.series.push(bandSeries(i, p.band));
  option.series.push({
    name: legendName, type: 'scatter', xAxisIndex: i, yAxisIndex: i, data: p.dots,
    symbol: 'circle', symbolSize: 3.3, itemStyle: {color: '#0000ff'}, clip: true, silent: true, z: 3,
    markLine: {silent: true, symbol: 'none', animation: false, label: {show: false},
      lineStyle: {color: '#000', width: 1, type: 'solid'}, data: [{yAxis: 0}]}
  });
  option.legend.push({
    data: [legendName], left: p.legend.left, top: p.legend.top, orient: 'horizontal',
    itemWidth: 60, itemHeight: 3, itemGap: 0, icon: 'circle', selectedMode: false,
    textStyle: {fontFamily: FONT, fontSize: 20, color: '#000'}
  });
});

const chart = echarts.init(document.getElementById('c'), null, {renderer: 'canvas'});
chart.setOption(option);
</script>
</body></html>
